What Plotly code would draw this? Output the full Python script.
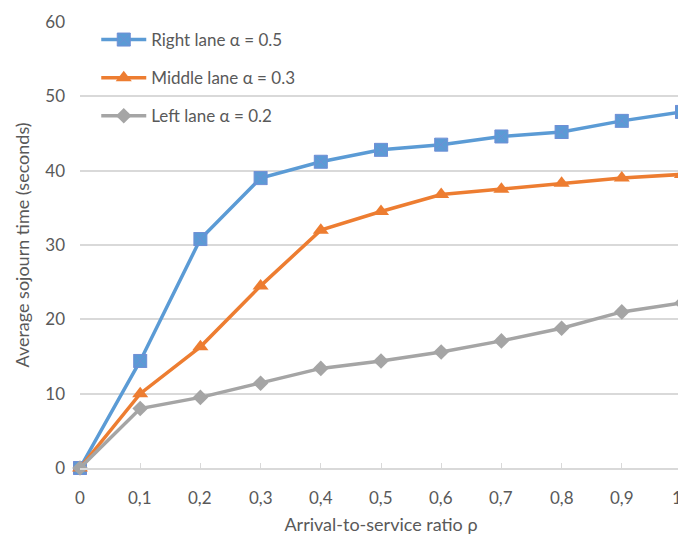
import plotly.graph_objects as go

rho = [0, 0.1, 0.2, 0.3, 0.4, 0.5, 0.6, 0.7, 0.8, 0.9, 1.0]
right_lane = [0, 14.4, 30.8, 39.0, 41.2, 42.8, 43.5, 44.6, 45.2, 46.7, 47.9]
middle_lane = [0, 10.0, 16.3, 24.5, 32.0, 34.5, 36.8, 37.5, 38.3, 39.0, 39.5]
left_lane = [0, 8.0, 9.5, 11.4, 13.4, 14.4, 15.6, 17.1, 18.8, 21.0, 22.2]
x_tick_labels = ["0", "0,1", "0,2", "0,3", "0,4", "0,5", "0,6", "0,7", "0,8", "0,9", "1"]
y_ticks = [0, 10, 20, 30, 40, 50, 60]

FONT = "Lato"
TXT = "#595959"

fig = go.Figure()
fig.add_trace(go.Scatter(
    x=rho, y=right_lane, mode="lines+markers", name="Right lane α = 0.5",
    legendgroup="a",
    line=dict(color="#5b9bd5", width=3.5),
    marker=dict(symbol="square-x", size=13, color="#5b9bd5",
                line=dict(color="#6f8fd6", width=1)),
    cliponaxis=False))
fig.add_trace(go.Scatter(
    x=rho, y=middle_lane, mode="lines+markers", name="Middle lane α = 0.3",
    legendgroup="b",
    line=dict(color="#ed7d31", width=3.5),
    marker=dict(symbol="triangle-up", size=14, color="#ed7d31"),
    cliponaxis=False))
fig.add_trace(go.Scatter(
    x=rho, y=left_lane, mode="lines+markers", name="Left lane α = 0.2",
    legendgroup="c",
    line=dict(color="#a5a5a5", width=3.5),
    marker=dict(symbol="diamond", size=12, color="#a5a5a5"),
    cliponaxis=False))

# x tick labels drawn at the axis' own tick positions
n = len(rho)
for i, (xv, lab) in enumerate(zip(rho, x_tick_labels)):
    last = (i == n - 1)
    fig.add_annotation(x=xv, xref="x", y=0, yref="paper", text=lab,
                       showarrow=False, yanchor="middle",
                       xanchor="right" if last else "center",
                       xshift=2 if last else 0,
                       yshift=-29, font=dict(family=FONT, size=17, color=TXT))

fig.update_layout(
    width=678, height=527,
    margin=dict(l=72, r=4, t=14, b=67, autoexpand=False),
    paper_bgcolor="white", plot_bgcolor="white",
    font=dict(family=FONT, color=TXT, size=17),
    legend=dict(x=0.027, y=1.0, xanchor="left", yanchor="top",
                bgcolor="rgba(0,0,0,0)", font=dict(size=17, color=TXT),
                tracegroupgap=13, itemwidth=45),
    showlegend=True,
)
fig.update_xaxes(
    range=[0, 1], tickvals=rho, ticktext=x_tick_labels, showticklabels=False,
    showgrid=False, showline=True, linecolor="#d9d9d9", linewidth=2,
    ticks="inside", ticklen=5, tickcolor="#d9d9d9", tickwidth=1,
    zeroline=False,
    automargin=False,
    title=dict(text="Arrival-to-service ratio ρ", font=dict(size=18, color=TXT), standoff=49),
)
fig.update_yaxes(
    range=[0, 60], tickvals=y_ticks,
    showgrid=True, gridcolor="#d9d9d9", gridwidth=1.5,
    zeroline=False, showline=False, ticks="",
    tickfont=dict(size=17, color=TXT), ticklabelstandoff=14,
    automargin=False,
    title=dict(text="Average sojourn time (seconds)", font=dict(size=18, color=TXT), standoff=10),
)

fig.write_html("out.html")
